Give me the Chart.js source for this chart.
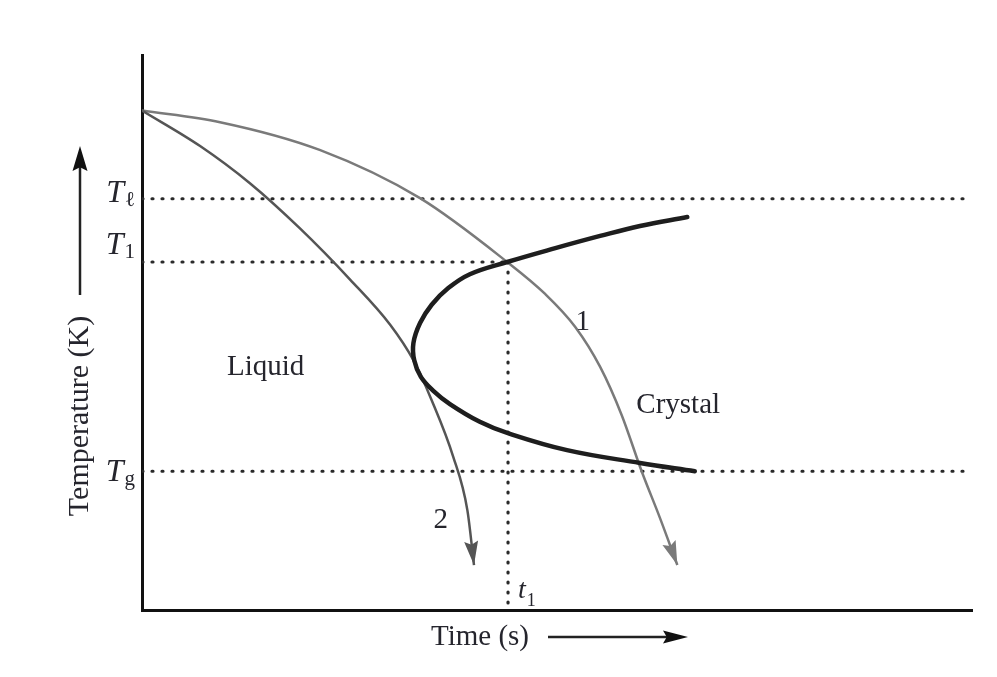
<!DOCTYPE html>
<html>
<head>
<meta charset="utf-8">
<script src="https://cdn.jsdelivr.net/npm/chart.js@4.4.1/dist/chart.umd.min.js"></script>
<style>
    html, body { margin: 0; padding: 0; background: #fff; }
</style>
</head>
<body>
<canvas id="coolingChart" width="997" height="677"></canvas>
<script>
// axis units are arbitrary: time 0-100, temperature 0-100
const timeOne = 44.1;                      // t1
const levelValues = [74.1, 62.7, 25.0];    // T_l, T_1, T_g
const levelMain = ['T', 'T', 'T'];
const levelSubs = ['ℓ', '1', 'g'];

// cooling path 1 (slow)
const path1Time = [0, 9.4, 21.4, 33.5, 44.0, 48.6, 52.2, 55.2, 57.8, 60.2, 62.4, 64.5];
const path1Temp = [90, 87.9, 82.9, 74.2, 62.7, 56.9, 51.0, 43.8, 35.1, 25.0, 16.6, 8.1];

// cooling path 2 (fast)
const path2Time = [0, 7.0, 13.0, 19.0, 25.1, 29.9, 32.7, 34.9, 37.5, 39.2, 40.0];
const path2Temp = [90, 83.6, 76.9, 68.8, 59.5, 51.4, 45.0, 37.8, 27.6, 18.0, 8.1];

// crystallisation nose (C curve), top end to bottom end
const noseTime = [65.7, 60.0, 55.2, 49.8, 44.0, 39.5, 36.9, 34.9, 33.5, 32.7, 32.8, 33.6, 35.1, 37.1, 40.7, 44.0, 51.2, 60.0, 66.6];
const noseTemp = [70.8, 69.2, 67.4, 65.2, 62.7, 60.5, 58.0, 55.0, 51.7, 48.1, 45.0, 42.0, 39.5, 37.1, 33.9, 31.9, 28.8, 26.5, 25.0];

const zip = (xs, ys) => xs.map((v, i) => ({ x: v, y: ys[i] }));

const serif = '"Liberation Serif", "Times New Roman", serif';
const ink = '#25252d';

// dotted guide lines
const dotted = {
    borderColor: '#2a2a2a',
    borderWidth: 3.2,
    borderDash: [1, 9],
    borderCapStyle: 'round',
    pointRadius: 0,
    tension: 0,
    order: 5
};

const datasets = [
    { ...dotted, data: [{ x: 0, y: levelValues[0] }, { x: 100, y: levelValues[0] }] },
    { ...dotted, data: [{ x: 0, y: levelValues[1] }, { x: timeOne, y: levelValues[1] }] },
    { ...dotted, data: [{ x: 0, y: levelValues[2] }, { x: 100, y: levelValues[2] }] },
    { ...dotted, data: [{ x: timeOne, y: levelValues[1] }, { x: timeOne, y: 0 }] },
    {
        data: zip(path1Time, path1Temp),
        borderColor: '#7a7a7a', borderWidth: 2.5, pointRadius: 0,
        cubicInterpolationMode: 'monotone', arrow: true, order: 3
    },
    {
        data: zip(path2Time, path2Temp),
        borderColor: '#555', borderWidth: 2.5, pointRadius: 0,
        cubicInterpolationMode: 'monotone', arrow: true, order: 2
    },
    {
        data: zip(noseTime, noseTemp),
        borderColor: '#1e1e1e', borderWidth: 4.5, pointRadius: 0,
        tension: 0.4, borderCapStyle: 'round', order: 1
    }
];

// text placed in the plot, in axis units (baseline, centred)
const notes = [
    { text: 'Liquid', x: 14.9, y: 42.3 },
    { text: 'Crystal', x: 64.6, y: 35.5 },
    { text: '1', x: 53.1, y: 50.5 },
    { text: '2', x: 36.0, y: 14.8 }
];

// baseline offsets of the T labels from their dotted line
const levelShift = [3, -8, 10];

function arrowHead(ctx, x, y, ang, len, half, color) {
    ctx.save();
    ctx.translate(x, y);
    ctx.rotate(ang);
    ctx.beginPath();
    ctx.moveTo(0, 0);
    ctx.lineTo(-len, -half);
    ctx.lineTo(-len * 0.85, 0);
    ctx.lineTo(-len, half);
    ctx.closePath();
    ctx.fillStyle = color;
    ctx.fill();
    ctx.restore();
}

// italic main letter with an upright subscript; right = right edge, or null with left given
function subText(ctx, main, sub, left, right, base, drop, size) {
    ctx.textAlign = 'left';
    const mainFont = 'italic ' + size + 'px ' + serif;
    const subFont = Math.round(size * 0.66) + 'px ' + serif;
    ctx.font = mainFont;
    const mw = ctx.measureText(main).width;
    ctx.font = subFont;
    const sw = ctx.measureText(sub).width;
    if (right !== null) left = right - sw - mw - 1;
    ctx.font = mainFont;
    ctx.fillText(main, left, base);
    ctx.font = subFont;
    ctx.fillText(sub, left + mw + 1, base + drop);
}

const overlay = {
    id: 'overlay',
    afterDatasetsDraw(chart) {
        const { ctx, chartArea, scales: { x, y } } = chart;
        ctx.save();

        // arrow heads at the end of the cooling paths
        chart.data.datasets.forEach((ds, i) => {
            if (!ds.arrow) return;
            const pts = chart.getDatasetMeta(i).data;
            const tip = pts[pts.length - 1];
            const ang = Math.atan2(tip.y - tip.cp1y, tip.x - tip.cp1x);
            arrowHead(ctx, tip.x, tip.y, ang, 24, 7, ds.borderColor);
        });

        ctx.fillStyle = ink;
        ctx.textBaseline = 'alphabetic';

        // T labels on the temperature axis
        levelValues.forEach((v, i) => {
            const py = y.getPixelForValue(v) + levelShift[i];
            subText(ctx, levelMain[i], levelSubs[i], 0, chartArea.left - 7, py, 4, 32);
        });

        // t1 under the vertical dotted line
        subText(ctx, 't', '1', x.getPixelForValue(timeOne) + 10, null, chartArea.bottom - 12, 8, 28);

        ctx.font = '29px ' + serif;
        ctx.textAlign = 'center';
        notes.forEach(n => {
            ctx.fillText(n.text, x.getPixelForValue(n.x), y.getPixelForValue(n.y));
        });

        // axis titles with their arrows
        ctx.fillText('Time (s)', 480, chartArea.bottom + 35);
        ctx.strokeStyle = '#222';
        ctx.lineWidth = 2.5;
        ctx.beginPath();
        ctx.moveTo(548, chartArea.bottom + 27);
        ctx.lineTo(668, chartArea.bottom + 27);
        ctx.stroke();
        arrowHead(ctx, 688, chartArea.bottom + 27, 0, 25, 6.5, '#111');

        ctx.save();
        ctx.font = '30px ' + serif;
        ctx.translate(chartArea.left - 54, 416);
        ctx.rotate(-Math.PI / 2);
        ctx.fillText('Temperature (K)', 0, 0);
        ctx.restore();

        ctx.beginPath();
        ctx.moveTo(80, 295);
        ctx.lineTo(80, 165);
        ctx.stroke();
        arrowHead(ctx, 80, 146, -Math.PI / 2, 25, 7.5, '#111');

        ctx.restore();
    }
};

const hiddenAxis = (min, max) => ({
    type: 'linear',
    min: min,
    max: max,
    ticks: { display: false },
    grid: { display: false, drawTicks: false },
    border: { display: true, color: '#111', width: 3 }
});

new Chart(document.getElementById('coolingChart'), {
    type: 'line',
    data: { datasets: datasets },
    options: {
        responsive: false,
        devicePixelRatio: 1,
        animation: false,
        layout: { padding: { left: 142, right: 25, top: 55, bottom: 67 } },
        scales: {
            x: hiddenAxis(0, 100),
            y: hiddenAxis(0, 100)
        },
        plugins: {
            legend: { display: false },
            tooltip: { enabled: false }
        }
    },
    plugins: [overlay]
});
</script>
</body>
</html>
